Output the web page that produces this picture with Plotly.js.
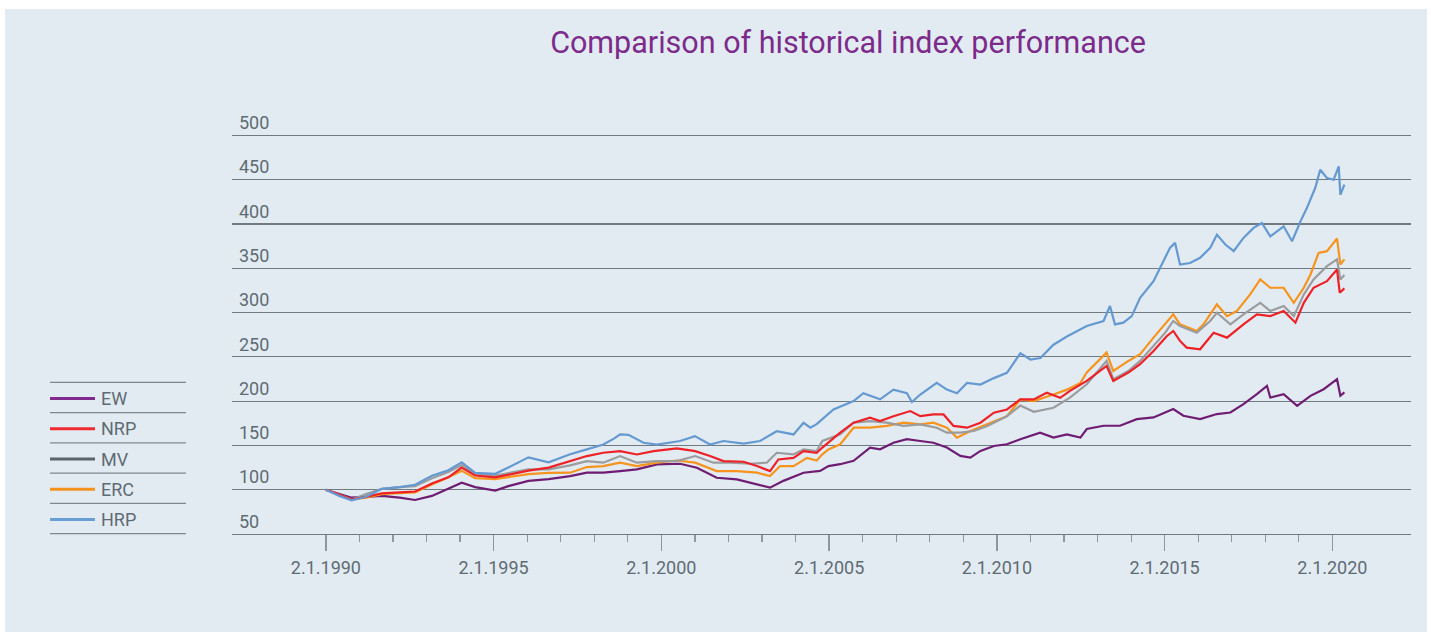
<!DOCTYPE html>
<html>
<head>
<meta charset="utf-8">
<script src="https://cdn.plot.ly/plotly-3.0.1.min.js"></script>
<style>
  html, body { margin: 0; padding: 0; background: #ffffff; width: 1431px; height: 632px; overflow: hidden; }
  #chart { position: absolute; left: 5px; top: 9px; width: 1422px; height: 623px; }
</style>
</head>
<body>
<div id="chart"></div>
<script>
// ---------- DATA (decimal years, index values) ----------
const seriesNames = ["EW", "NRP", "MV", "ERC", "HRP"];

const ewYears  = [1990.0,1990.4,1990.77,1991.2,1991.67,1992.2,1992.66,1993.16,1993.65,1994.05,1994.45,1995.05,1995.44,1996.04,1996.64,1997.28,1997.78,1998.27,1998.77,1999.27,1999.87,2000.56,2001.06,2001.65,2002.25,2002.85,2003.24,2003.64,2004.24,2004.73,2004.98,2005.33,2005.73,2006.22,2006.52,2006.92,2007.32,2007.72,2008.11,2008.51,2008.91,2009.21,2009.51,2009.91,2010.3,2010.7,2011.29,2011.69,2012.09,2012.49,2012.68,2013.18,2013.67,2014.17,2014.67,2015.26,2015.56,2016.06,2016.56,2016.96,2017.35,2017.75,2018.05,2018.15,2018.55,2018.95,2019.35,2019.74,2020.14,2020.24,2020.36];
const ewValues = [100,95,91,92,93,91,88.4,93,101,108,103,99,104,110,112,115.4,119.2,119.2,121,123,128.6,129.3,124.8,113.5,111.7,106,102.3,110,119.2,121.3,126.7,128.8,132.6,147.6,145.7,153,157,155,153,147.6,138.2,136.3,143.8,149.4,151.3,157,164.4,158.8,162.5,158.8,168.5,172.2,172.2,179.7,181.6,191,183.5,179.7,185.4,187.2,196.6,207.9,217.3,204.1,207.9,194.7,206,213.5,224.8,206,209.8];

const nrpYears  = [1990.0,1990.4,1990.77,1991.2,1991.67,1992.2,1992.66,1993.16,1993.65,1994.05,1994.45,1995.05,1995.44,1996.04,1996.64,1997.28,1997.78,1998.27,1998.77,1999.27,1999.77,2000.46,2001.01,2001.45,2001.85,2002.45,2002.85,2003.24,2003.49,2003.94,2004.24,2004.63,2004.8,2005.33,2005.73,2006.22,2006.52,2006.92,2007.42,2007.72,2008.11,2008.41,2008.71,2009.11,2009.51,2009.91,2010.3,2010.7,2011.1,2011.49,2011.89,2012.18,2012.68,2013.27,2013.47,2013.92,2014.27,2014.67,2015.07,2015.26,2015.46,2015.66,2016.06,2016.46,2016.86,2017.35,2017.75,2018.15,2018.55,2018.9,2019.15,2019.44,2019.84,2020.14,2020.22,2020.36];
const nrpValues = [100,94,89,92,96,97,98,107,114,125,116,114,117,121.5,125,132.3,138,141.7,143.6,139.8,143.6,146.6,143.6,138,132.3,131.6,126.7,121,134.2,136,143.6,141.7,147.6,164.4,175.7,181.3,177.5,183,188.8,183,185,185,172,170,175.7,187,190.6,201.9,201.9,209.4,203.7,211.6,222.9,239.8,222.9,232.3,241.7,256.7,273.6,279.2,268,260.4,258.6,277.3,271.7,286.7,298,296,301.7,288.6,311,328,335.5,348.6,322.4,327.3];

const mvYears  = [1990.0,1990.4,1990.77,1991.2,1991.67,1992.2,1992.66,1993.16,1993.65,1994.05,1994.45,1995.05,1995.44,1996.04,1996.64,1997.28,1997.78,1998.27,1998.77,1999.27,1999.87,2000.46,2001.01,2001.55,2002.05,2002.65,2003.14,2003.44,2003.94,2004.24,2004.63,2004.8,2005.33,2005.73,2006.22,2006.72,2007.22,2007.72,2008.21,2008.51,2008.91,2009.31,2009.71,2010.3,2010.7,2011.1,2011.69,2012.18,2012.68,2013.27,2013.47,2013.92,2014.27,2014.67,2015.02,2015.26,2015.46,2015.96,2016.36,2016.56,2016.96,2017.35,2017.85,2018.15,2018.55,2018.85,2019.15,2019.44,2019.84,2020.14,2020.24,2020.36];
const mvValues = [100,94,89,95,101,103,104,113,120,128,118,116,119,123,123,127.5,132.3,130.5,138,130.5,132.3,132.3,138,130.5,130.5,129.3,130.5,141.7,139.8,145.5,143.6,155,162.5,175.7,177.5,175.7,172,173.8,170,164.4,164.4,166.3,172,183,195,188,192.5,204,219,245.4,224.8,234,245.4,262.3,277.3,290.5,284.8,277.3,290.5,299.8,286.7,298,311,301.7,307.4,296,320.5,337.4,352.4,360,337.4,342.3];

const ercYears  = [1990.0,1990.4,1990.77,1991.2,1991.67,1992.2,1992.66,1993.16,1993.65,1994.05,1994.45,1995.05,1995.44,1996.04,1996.64,1997.28,1997.78,1998.27,1998.77,1999.27,1999.87,2000.46,2001.01,2001.65,2002.25,2002.85,2003.24,2003.54,2003.94,2004.34,2004.63,2004.8,2004.98,2005.33,2005.73,2006.22,2006.72,2007.22,2007.72,2008.11,2008.51,2008.81,2009.21,2009.71,2010.3,2010.7,2011.1,2011.69,2012.09,2012.49,2012.68,2013.27,2013.47,2013.92,2014.27,2014.67,2015.02,2015.26,2015.46,2015.96,2016.16,2016.56,2016.86,2017.15,2017.55,2017.85,2018.15,2018.55,2018.85,2019.15,2019.35,2019.59,2019.84,2020.14,2020.24,2020.36];
const ercValues = [100,94,89,91,95,96,97,106,114,121.5,113,112,114,117.7,119,119.2,125.6,126.7,130.5,126.7,130.5,133,130.5,121,121,119.2,115.4,126.7,126.7,136,133,140,145.5,151.3,170,170,172,175.7,173.8,175.7,170,158.8,166.3,173.8,183,201.9,200,207.5,213,220.6,232.3,254.8,234,245.4,253,271.7,286.7,298,286.7,279.2,286.7,309.2,296,301.7,320.5,337.4,328,328,311,328,343,367.4,369.3,383.6,354.3,360];

const hrpYears  = [1990.0,1990.4,1990.77,1991.2,1991.67,1992.2,1992.66,1993.16,1993.65,1994.05,1994.45,1995.05,1995.44,1996.04,1996.64,1997.28,1997.78,1998.27,1998.6,1998.77,1999.02,1999.47,1999.87,2000.56,2001.0,2001.45,2001.85,2002.45,2002.94,2003.44,2003.94,2004.24,2004.44,2004.63,2004.73,2004.98,2005.13,2005.73,2006.02,2006.52,2006.92,2007.32,2007.47,2007.72,2008.21,2008.51,2008.81,2009.11,2009.51,2009.91,2010.3,2010.7,2011.0,2011.3,2011.69,2012.09,2012.45,2012.68,2013.18,2013.37,2013.52,2013.77,2014.02,2014.27,2014.67,2014.92,2015.16,2015.31,2015.46,2015.76,2016.06,2016.36,2016.56,2016.81,2017.06,2017.35,2017.65,2017.9,2018.15,2018.55,2018.8,2019.05,2019.24,2019.49,2019.64,2019.84,2020.04,2020.19,2020.24,2020.36];
const hrpValues = [100,93,88,92,101,103,105.6,115.8,122,131,119,118,125,136.5,131,140,145.5,151,158,162.4,162,153,151,155,160.5,151,155,152,155,166,162.4,175.5,170,174,177.5,186,190.6,200,209,202,213,209,199,207.5,220.6,213,209,220.6,218.7,226,232,254,247,248.7,263.7,273,280,284.8,290.5,307.4,286.7,288.6,296,316.7,335.5,354.3,373,378.7,354.3,356,361.8,373,388,376.8,369.3,384.3,395.6,401.2,386,397.4,380.5,403,418,440.6,461.3,451.9,450,465,433,444.4];

const tickYears = [1990, 1995, 2000, 2005, 2010, 2015, 2020];

// ---------- STYLES ----------
const lineColors   = ["#6f1d72", "#ee2127", "#9b9c9e", "#f7941d", "#6499d1"];
const legendColors = ["#7e2a8e", "#ee2a2f", "#5a646b", "#f5921e", "#6a9fd6"];
const textColor = "#5f6b73";
const gridColor = "#6f7a81";
const FONT = "Roboto, 'Liberation Sans', Arial, sans-serif";

function yearToDate(y) {
  const yr = Math.floor(y);
  const s = Date.UTC(yr, 0, 2), e = Date.UTC(yr + 1, 0, 2);
  return new Date(s + (y - yr) * (e - s)).toISOString().slice(0, 10);
}

const allYears  = [ewYears, nrpYears, mvYears, ercYears, hrpYears];
const allValues = [ewValues, nrpValues, mvValues, ercValues, hrpValues];
const drawOrder = [0, 3, 2, 1, 4];

const traces = drawOrder.map(i => ({
  type: "scatter",
  mode: "lines",
  name: seriesNames[i],
  x: allYears[i].map(yearToDate),
  y: allValues[i],
  line: { color: lineColors[i], width: 2.2 },
  showlegend: false,
  hoverinfo: "skip"
}));

// plot geometry (div pixels); y range extends to 540 so the 500 line and its label fit inside
const W = 1422, H = 623;
const M = { l: 227, r: 16, t: 90.5, b: 98 };
const PW = W - M.l - M.r, PH = H - M.t - M.b;
const px2x = px => (px - M.l) / PW;
const py2y = py => 1 - (py - M.t) / PH;

const shapes = [];
const annotations = [];
const legTop = 373.3, legStep = 30.25;
for (let k = 0; k <= seriesNames.length; k++) {
  const yy = py2y(legTop + k * legStep);
  shapes.push({ type: "line", xref: "paper", yref: "paper", x0: px2x(45), x1: px2x(181), y0: yy, y1: yy,
    line: { color: "#7d888f", width: 1.3 } });
}
seriesNames.forEach((nm, k) => {
  const yy = py2y(legTop + k * legStep + legStep / 2 + 1);
  shapes.push({ type: "line", xref: "paper", yref: "paper", x0: px2x(45), x1: px2x(90), y0: yy, y1: yy,
    line: { color: legendColors[k], width: 3 } });
  annotations.push({ xref: "paper", yref: "paper", x: px2x(94), y: yy, xanchor: "left", yanchor: "middle",
    text: nm, showarrow: false, font: { family: FONT, size: 18, color: textColor } });
});

const layout = {
  width: W, height: H,
  paper_bgcolor: "#e2ebf2",
  plot_bgcolor: "rgba(0,0,0,0)",
  margin: M,
  showlegend: false,
  title: {
    text: "Comparison of historical index performance",
    font: { family: FONT, size: 30.5, color: "#7d2b8b" },
    xref: "container", yref: "container",
    x: 843 / W, xanchor: "center",
    y: 1 - 33 / H, yanchor: "middle"
  },
  xaxis: {
    type: "date",
    range: ["1987-03-17", "2022-05-07"],
    tickmode: "array",
    tickvals: tickYears.map(y => y + "-01-02"),
    ticktext: tickYears.map(y => "2.1." + y),
    ticks: "outside", ticklen: 16, tickwidth: 1.5, tickcolor: "#8d979d",
    minor: {
      tickmode: "array",
      tickvals: Array.from({ length: 29 }, (_, i) => 1991 + i).filter(y => y % 5 !== 0).map(y => y + "-01-02"),
      ticks: "outside", ticklen: 7, tickwidth: 1.2, tickcolor: "#8d979d", showgrid: false
    },
    showgrid: false, zeroline: false,
    showline: true, linecolor: gridColor, linewidth: 1.3,
    tickfont: { family: FONT, size: 18, color: textColor },
    ticklabelstandoff: 1
  },
  yaxis: {
    range: [50, 540],
    tickmode: "array",
    tickvals: [50, 100, 150, 200, 250, 300, 350, 400, 450, 500],
    showgrid: true, gridcolor: gridColor, gridwidth: 1.2,
    zeroline: false, showline: false, ticks: "",
    ticklabelposition: "inside top",
    tickfont: { family: FONT, size: 18, color: textColor },
    ticklabelstandoff: 4
  },
  shapes: shapes,
  annotations: annotations
};

Plotly.newPlot("chart", traces, layout, { staticPlot: true, displayModeBar: false });
</script>
</body>
</html>
